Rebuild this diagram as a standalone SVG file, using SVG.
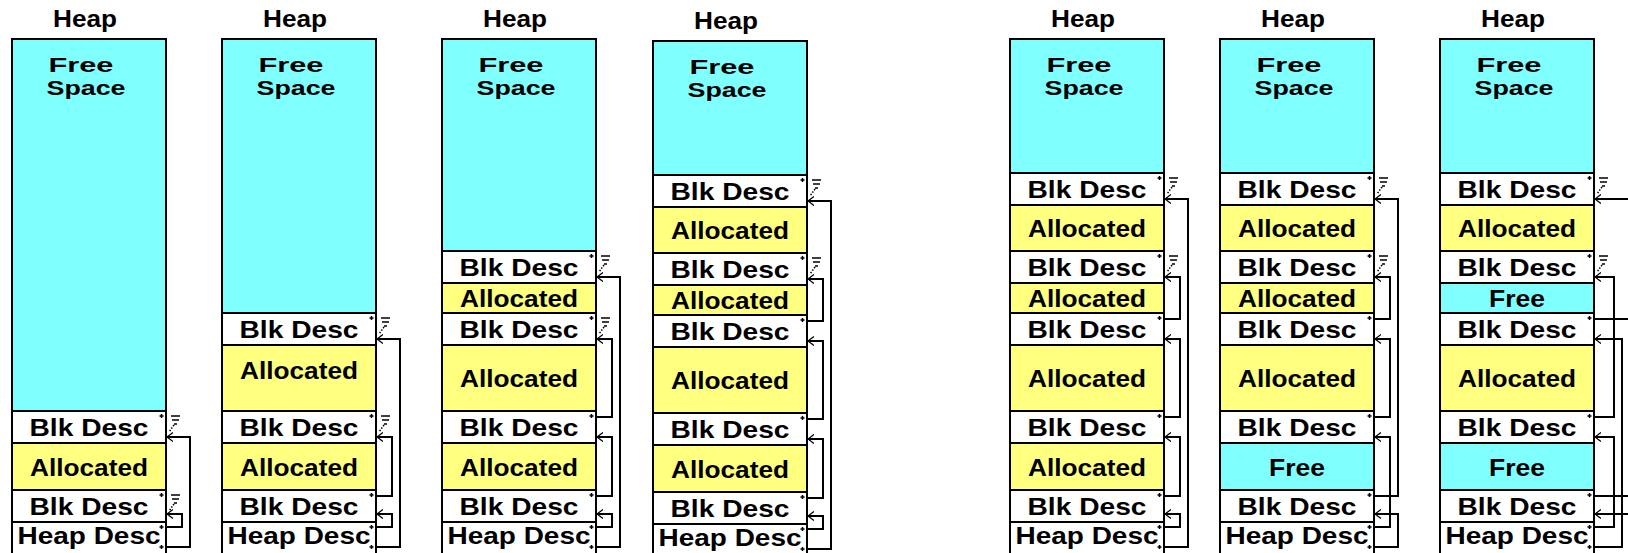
<svg xmlns="http://www.w3.org/2000/svg" xmlns:xlink="http://www.w3.org/1999/xlink" width="1628" height="553" viewBox="0 0 1628 553">
<defs>
<style>
.r{stroke:#000;stroke-width:2}
.fs{fill:#80ffff}
.al{fill:#ffff80}
.bd{fill:#fff}
text{font-family:"Liberation Sans",Arial,sans-serif;font-weight:bold;font-size:24.5px;fill:#000;text-anchor:middle}
text.sm{font-size:20.5px}
.cn{fill:none;stroke:#000;stroke-width:2;marker-end:url(#ah)}
.cn0{fill:none;stroke:#000;stroke-width:2}
.mk{fill:none;stroke:#000;stroke-width:1.5}
</style>
<marker id="ah" viewBox="0 0 6 10" refX="6" refY="5" markerWidth="6" markerHeight="10" markerUnits="userSpaceOnUse" orient="auto">
<path d="M0,0.5 L6,5 L0,9.5" fill="none" stroke="#000" stroke-width="1.3"/>
</marker>
<!-- pointer origin mark, placed at (right edge, row top) -->
<g id="dot"><path class="mk" d="M-6.5,5h4M-4.5,3v4"/></g>
<!-- null pointer (ground) mark -->
<g id="gnd"><path class="mk" d="M5,5h9M6,9h7M8,13h3"/><path class="mk" stroke-dasharray="1.5 1.5" d="M8,14 L3,21"/></g>
</defs>
<rect width="1628" height="553" fill="#fff"/>

<!-- heap 1 -->
<g id="heap1" transform="translate(12,0)">
<text x="73" y="27" textLength="64" lengthAdjust="spacingAndGlyphs">Heap</text>
<rect class="r fs" x="0" y="39" width="154" height="372"/>
<text class="sm" x="69" y="72" textLength="65" lengthAdjust="spacingAndGlyphs">Free</text>
<text class="sm" x="74" y="95" textLength="79" lengthAdjust="spacingAndGlyphs">Space</text>
<rect class="r bd" x="0" y="411" width="154" height="32"/>
<text x="77" y="436" textLength="119" lengthAdjust="spacingAndGlyphs">Blk Desc</text>
<rect class="r al" x="0" y="443" width="154" height="47"/>
<text x="77" y="475.5" textLength="118" lengthAdjust="spacingAndGlyphs">Allocated</text>
<rect class="r bd" x="0" y="490" width="154" height="32"/>
<text x="77" y="515" textLength="119" lengthAdjust="spacingAndGlyphs">Blk Desc</text>
<rect class="r bd" x="0" y="522" width="154" height="32"/>
<text x="77" y="543.5" textLength="143" lengthAdjust="spacingAndGlyphs">Heap Desc</text>
<use xlink:href="#dot" x="154" y="411"/><use xlink:href="#gnd" x="154" y="411"/>
<use xlink:href="#dot" x="154" y="490"/><use xlink:href="#gnd" x="154" y="490"/>
<use xlink:href="#dot" x="154" y="522"/><use xlink:href="#dot" x="154" y="542"/>
</g>

<!-- heap 2 -->
<g id="heap2" transform="translate(222,0)">
<text x="73" y="27" textLength="64" lengthAdjust="spacingAndGlyphs">Heap</text>
<rect class="r fs" x="0" y="39" width="154" height="274"/>
<text class="sm" x="69" y="72" textLength="65" lengthAdjust="spacingAndGlyphs">Free</text>
<text class="sm" x="74" y="95" textLength="79" lengthAdjust="spacingAndGlyphs">Space</text>
<rect class="r bd" x="0" y="313" width="154" height="32"/>
<text x="77" y="338" textLength="119" lengthAdjust="spacingAndGlyphs">Blk Desc</text>
<rect class="r al" x="0" y="345" width="154" height="66"/>
<text x="77" y="378.5" textLength="118" lengthAdjust="spacingAndGlyphs">Allocated</text>
<rect class="r bd" x="0" y="411" width="154" height="32"/>
<text x="77" y="436" textLength="119" lengthAdjust="spacingAndGlyphs">Blk Desc</text>
<rect class="r al" x="0" y="443" width="154" height="47"/>
<text x="77" y="475.5" textLength="118" lengthAdjust="spacingAndGlyphs">Allocated</text>
<rect class="r bd" x="0" y="490" width="154" height="32"/>
<text x="77" y="515" textLength="119" lengthAdjust="spacingAndGlyphs">Blk Desc</text>
<rect class="r bd" x="0" y="522" width="154" height="32"/>
<text x="77" y="543.5" textLength="143" lengthAdjust="spacingAndGlyphs">Heap Desc</text>
<use xlink:href="#dot" x="154" y="313"/><use xlink:href="#gnd" x="154" y="313"/>
<use xlink:href="#dot" x="154" y="411"/><use xlink:href="#gnd" x="154" y="411"/>
<use xlink:href="#dot" x="154" y="490"/>
<use xlink:href="#dot" x="154" y="522"/><use xlink:href="#dot" x="154" y="542"/>
</g>

<!-- heap 3 -->
<g id="heap3" transform="translate(442,0)">
<text x="73" y="27" textLength="64" lengthAdjust="spacingAndGlyphs">Heap</text>
<rect class="r fs" x="0" y="39" width="154" height="212"/>
<text class="sm" x="69" y="72" textLength="65" lengthAdjust="spacingAndGlyphs">Free</text>
<text class="sm" x="74" y="95" textLength="79" lengthAdjust="spacingAndGlyphs">Space</text>
<rect class="r bd" x="0" y="251" width="154" height="32"/>
<text x="77" y="276" textLength="119" lengthAdjust="spacingAndGlyphs">Blk Desc</text>
<rect class="r al" x="0" y="283" width="154" height="30"/>
<text x="77" y="307" textLength="118" lengthAdjust="spacingAndGlyphs">Allocated</text>
<rect class="r bd" x="0" y="313" width="154" height="32"/>
<text x="77" y="338" textLength="119" lengthAdjust="spacingAndGlyphs">Blk Desc</text>
<rect class="r al" x="0" y="345" width="154" height="66"/>
<text x="77" y="387" textLength="118" lengthAdjust="spacingAndGlyphs">Allocated</text>
<rect class="r bd" x="0" y="411" width="154" height="32"/>
<text x="77" y="436" textLength="119" lengthAdjust="spacingAndGlyphs">Blk Desc</text>
<rect class="r al" x="0" y="443" width="154" height="47"/>
<text x="77" y="475.5" textLength="118" lengthAdjust="spacingAndGlyphs">Allocated</text>
<rect class="r bd" x="0" y="490" width="154" height="32"/>
<text x="77" y="515" textLength="119" lengthAdjust="spacingAndGlyphs">Blk Desc</text>
<rect class="r bd" x="0" y="522" width="154" height="32"/>
<text x="77" y="543.5" textLength="143" lengthAdjust="spacingAndGlyphs">Heap Desc</text>
<use xlink:href="#dot" x="154" y="251"/><use xlink:href="#gnd" x="154" y="251"/>
<use xlink:href="#dot" x="154" y="313"/><use xlink:href="#gnd" x="154" y="313"/>
<use xlink:href="#dot" x="154" y="411"/>
<use xlink:href="#dot" x="154" y="490"/>
<use xlink:href="#dot" x="154" y="522"/><use xlink:href="#dot" x="154" y="542"/>
</g>

<!-- heap 4 -->
<g id="heap4" transform="translate(653,2)">
<text x="73" y="27" textLength="64" lengthAdjust="spacingAndGlyphs">Heap</text>
<rect class="r fs" x="0" y="39" width="154" height="134"/>
<text class="sm" x="69" y="72" textLength="65" lengthAdjust="spacingAndGlyphs">Free</text>
<text class="sm" x="74" y="95" textLength="79" lengthAdjust="spacingAndGlyphs">Space</text>
<rect class="r bd" x="0" y="173" width="154" height="32"/>
<text x="77" y="198" textLength="119" lengthAdjust="spacingAndGlyphs">Blk Desc</text>
<rect class="r al" x="0" y="205" width="154" height="46"/>
<text x="77" y="237" textLength="118" lengthAdjust="spacingAndGlyphs">Allocated</text>
<rect class="r bd" x="0" y="251" width="154" height="32"/>
<text x="77" y="276" textLength="119" lengthAdjust="spacingAndGlyphs">Blk Desc</text>
<rect class="r al" x="0" y="283" width="154" height="30"/>
<text x="77" y="307" textLength="118" lengthAdjust="spacingAndGlyphs">Allocated</text>
<rect class="r bd" x="0" y="313" width="154" height="32"/>
<text x="77" y="338" textLength="119" lengthAdjust="spacingAndGlyphs">Blk Desc</text>
<rect class="r al" x="0" y="345" width="154" height="66"/>
<text x="77" y="387" textLength="118" lengthAdjust="spacingAndGlyphs">Allocated</text>
<rect class="r bd" x="0" y="411" width="154" height="32"/>
<text x="77" y="436" textLength="119" lengthAdjust="spacingAndGlyphs">Blk Desc</text>
<rect class="r al" x="0" y="443" width="154" height="47"/>
<text x="77" y="475.5" textLength="118" lengthAdjust="spacingAndGlyphs">Allocated</text>
<rect class="r bd" x="0" y="490" width="154" height="32"/>
<text x="77" y="515" textLength="119" lengthAdjust="spacingAndGlyphs">Blk Desc</text>
<rect class="r bd" x="0" y="522" width="154" height="32"/>
<text x="77" y="543.5" textLength="143" lengthAdjust="spacingAndGlyphs">Heap Desc</text>
<use xlink:href="#dot" x="154" y="173"/><use xlink:href="#gnd" x="154" y="173"/>
<use xlink:href="#dot" x="154" y="251"/><use xlink:href="#gnd" x="154" y="251"/>
<use xlink:href="#dot" x="154" y="313"/>
<use xlink:href="#dot" x="154" y="411"/>
<use xlink:href="#dot" x="154" y="490"/>
<use xlink:href="#dot" x="154" y="522"/><use xlink:href="#dot" x="154" y="542"/>
</g>

<!-- heap 5 -->
<g id="heap5" transform="translate(1010,0)">
<text x="73" y="27" textLength="64" lengthAdjust="spacingAndGlyphs">Heap</text>
<rect class="r fs" x="0" y="39" width="154" height="134"/>
<text class="sm" x="69" y="72" textLength="65" lengthAdjust="spacingAndGlyphs">Free</text>
<text class="sm" x="74" y="95" textLength="79" lengthAdjust="spacingAndGlyphs">Space</text>
<rect class="r bd" x="0" y="173" width="154" height="32"/>
<text x="77" y="198" textLength="119" lengthAdjust="spacingAndGlyphs">Blk Desc</text>
<rect class="r al" x="0" y="205" width="154" height="46"/>
<text x="77" y="237" textLength="118" lengthAdjust="spacingAndGlyphs">Allocated</text>
<rect class="r bd" x="0" y="251" width="154" height="32"/>
<text x="77" y="276" textLength="119" lengthAdjust="spacingAndGlyphs">Blk Desc</text>
<rect class="r al" x="0" y="283" width="154" height="30"/>
<text x="77" y="307" textLength="118" lengthAdjust="spacingAndGlyphs">Allocated</text>
<rect class="r bd" x="0" y="313" width="154" height="32"/>
<text x="77" y="338" textLength="119" lengthAdjust="spacingAndGlyphs">Blk Desc</text>
<rect class="r al" x="0" y="345" width="154" height="66"/>
<text x="77" y="387" textLength="118" lengthAdjust="spacingAndGlyphs">Allocated</text>
<rect class="r bd" x="0" y="411" width="154" height="32"/>
<text x="77" y="436" textLength="119" lengthAdjust="spacingAndGlyphs">Blk Desc</text>
<rect class="r al" x="0" y="443" width="154" height="47"/>
<text x="77" y="475.5" textLength="118" lengthAdjust="spacingAndGlyphs">Allocated</text>
<rect class="r bd" x="0" y="490" width="154" height="32"/>
<text x="77" y="515" textLength="119" lengthAdjust="spacingAndGlyphs">Blk Desc</text>
<rect class="r bd" x="0" y="522" width="154" height="32"/>
<text x="77" y="543.5" textLength="143" lengthAdjust="spacingAndGlyphs">Heap Desc</text>
<use xlink:href="#dot" x="154" y="173"/><use xlink:href="#gnd" x="154" y="173"/>
<use xlink:href="#dot" x="154" y="251"/><use xlink:href="#gnd" x="154" y="251"/>
<use xlink:href="#dot" x="154" y="313"/>
<use xlink:href="#dot" x="154" y="411"/>
<use xlink:href="#dot" x="154" y="490"/>
<use xlink:href="#dot" x="154" y="522"/><use xlink:href="#dot" x="154" y="542"/>
</g>

<!-- heap 6 -->
<g id="heap6" transform="translate(1220,0)">
<text x="73" y="27" textLength="64" lengthAdjust="spacingAndGlyphs">Heap</text>
<rect class="r fs" x="0" y="39" width="154" height="134"/>
<text class="sm" x="69" y="72" textLength="65" lengthAdjust="spacingAndGlyphs">Free</text>
<text class="sm" x="74" y="95" textLength="79" lengthAdjust="spacingAndGlyphs">Space</text>
<rect class="r bd" x="0" y="173" width="154" height="32"/>
<text x="77" y="198" textLength="119" lengthAdjust="spacingAndGlyphs">Blk Desc</text>
<rect class="r al" x="0" y="205" width="154" height="46"/>
<text x="77" y="237" textLength="118" lengthAdjust="spacingAndGlyphs">Allocated</text>
<rect class="r bd" x="0" y="251" width="154" height="32"/>
<text x="77" y="276" textLength="119" lengthAdjust="spacingAndGlyphs">Blk Desc</text>
<rect class="r al" x="0" y="283" width="154" height="30"/>
<text x="77" y="307" textLength="118" lengthAdjust="spacingAndGlyphs">Allocated</text>
<rect class="r bd" x="0" y="313" width="154" height="32"/>
<text x="77" y="338" textLength="119" lengthAdjust="spacingAndGlyphs">Blk Desc</text>
<rect class="r al" x="0" y="345" width="154" height="66"/>
<text x="77" y="387" textLength="118" lengthAdjust="spacingAndGlyphs">Allocated</text>
<rect class="r bd" x="0" y="411" width="154" height="32"/>
<text x="77" y="436" textLength="119" lengthAdjust="spacingAndGlyphs">Blk Desc</text>
<rect class="r fs" x="0" y="443" width="154" height="47"/>
<text x="77" y="475.5" textLength="56" lengthAdjust="spacingAndGlyphs">Free</text>
<rect class="r bd" x="0" y="490" width="154" height="32"/>
<text x="77" y="515" textLength="119" lengthAdjust="spacingAndGlyphs">Blk Desc</text>
<rect class="r bd" x="0" y="522" width="154" height="32"/>
<text x="77" y="543.5" textLength="143" lengthAdjust="spacingAndGlyphs">Heap Desc</text>
<use xlink:href="#dot" x="154" y="173"/><use xlink:href="#gnd" x="154" y="173"/>
<use xlink:href="#dot" x="154" y="251"/><use xlink:href="#gnd" x="154" y="251"/>
<use xlink:href="#dot" x="154" y="313"/>
<use xlink:href="#dot" x="154" y="411"/>
<use xlink:href="#dot" x="154" y="490"/>
<use xlink:href="#dot" x="154" y="522"/><use xlink:href="#dot" x="154" y="542"/>
</g>

<!-- heap 7 -->
<g id="heap7" transform="translate(1440,0)">
<text x="73" y="27" textLength="64" lengthAdjust="spacingAndGlyphs">Heap</text>
<rect class="r fs" x="0" y="39" width="154" height="134"/>
<text class="sm" x="69" y="72" textLength="65" lengthAdjust="spacingAndGlyphs">Free</text>
<text class="sm" x="74" y="95" textLength="79" lengthAdjust="spacingAndGlyphs">Space</text>
<rect class="r bd" x="0" y="173" width="154" height="32"/>
<text x="77" y="198" textLength="119" lengthAdjust="spacingAndGlyphs">Blk Desc</text>
<rect class="r al" x="0" y="205" width="154" height="46"/>
<text x="77" y="237" textLength="118" lengthAdjust="spacingAndGlyphs">Allocated</text>
<rect class="r bd" x="0" y="251" width="154" height="32"/>
<text x="77" y="276" textLength="119" lengthAdjust="spacingAndGlyphs">Blk Desc</text>
<rect class="r fs" x="0" y="283" width="154" height="30"/>
<text x="77" y="307" textLength="56" lengthAdjust="spacingAndGlyphs">Free</text>
<rect class="r bd" x="0" y="313" width="154" height="32"/>
<text x="77" y="338" textLength="119" lengthAdjust="spacingAndGlyphs">Blk Desc</text>
<rect class="r al" x="0" y="345" width="154" height="66"/>
<text x="77" y="387" textLength="118" lengthAdjust="spacingAndGlyphs">Allocated</text>
<rect class="r bd" x="0" y="411" width="154" height="32"/>
<text x="77" y="436" textLength="119" lengthAdjust="spacingAndGlyphs">Blk Desc</text>
<rect class="r fs" x="0" y="443" width="154" height="47"/>
<text x="77" y="475.5" textLength="56" lengthAdjust="spacingAndGlyphs">Free</text>
<rect class="r bd" x="0" y="490" width="154" height="32"/>
<text x="77" y="515" textLength="119" lengthAdjust="spacingAndGlyphs">Blk Desc</text>
<rect class="r bd" x="0" y="522" width="154" height="32"/>
<text x="77" y="543.5" textLength="143" lengthAdjust="spacingAndGlyphs">Heap Desc</text>
<use xlink:href="#dot" x="154" y="173"/><use xlink:href="#gnd" x="154" y="173"/>
<use xlink:href="#dot" x="154" y="251"/><use xlink:href="#gnd" x="154" y="251"/>
<use xlink:href="#dot" x="154" y="313"/>
<use xlink:href="#dot" x="154" y="411"/>
<use xlink:href="#dot" x="154" y="490"/>
<use xlink:href="#dot" x="154" y="522"/><use xlink:href="#dot" x="154" y="542"/>
</g>

<!-- block links -->
<g id="connectors">
<g transform="translate(12,0)">
<path class="cn" d="M154,547H178V437H155"/>
<path class="cn" d="M154,527H170V514H155"/>
</g>
<g transform="translate(222,0)">
<path class="cn" d="M154,547H178V339H155"/>
<path class="cn" d="M154,496H170V437H155"/>
<path class="cn" d="M154,527H170V514H155"/>
</g>
<g transform="translate(442,0)">
<path class="cn" d="M154,547H178V277H155"/>
<path class="cn" d="M154,417H170V339H155"/>
<path class="cn" d="M154,496H170V437H155"/>
<path class="cn" d="M154,527H170V514H155"/>
</g>
<g transform="translate(653,2)">
<path class="cn" d="M154,547H178V199H155"/>
<path class="cn" d="M154,319H170V277H155"/>
<path class="cn" d="M154,417H170V339H155"/>
<path class="cn" d="M154,496H170V437H155"/>
<path class="cn" d="M154,527H170V514H155"/>
</g>
<g transform="translate(1010,0)">
<path class="cn" d="M154,547H178V199H155"/>
<path class="cn" d="M154,319H170V277H155"/>
<path class="cn" d="M154,417H170V339H155"/>
<path class="cn" d="M154,496H170V437H155"/>
<path class="cn" d="M154,527H170V514H155"/>
</g>
<g transform="translate(1220,0)">
<path class="cn" d="M154,547H178V514H155"/>
<path class="cn" d="M154,496H178V199H155"/>
<path class="cn" d="M154,527H170V437H155"/>
<path class="cn" d="M154,417H170V339H155"/>
<path class="cn" d="M154,319H170V277H155"/>
</g>
<g transform="translate(1440,0)">
<path class="cn" d="M200,199H155"/>
<path class="cn0" d="M154,319H200"/>
<path class="cn" d="M154,417H174V277H155"/>
<path class="cn" d="M154,527H174V437H155"/>
<path class="cn" d="M154,547H182V339H155"/>
<path class="cn0" d="M154,496H200"/>
<path class="cn" d="M200,514H155"/>
</g>
</g>
</svg>
